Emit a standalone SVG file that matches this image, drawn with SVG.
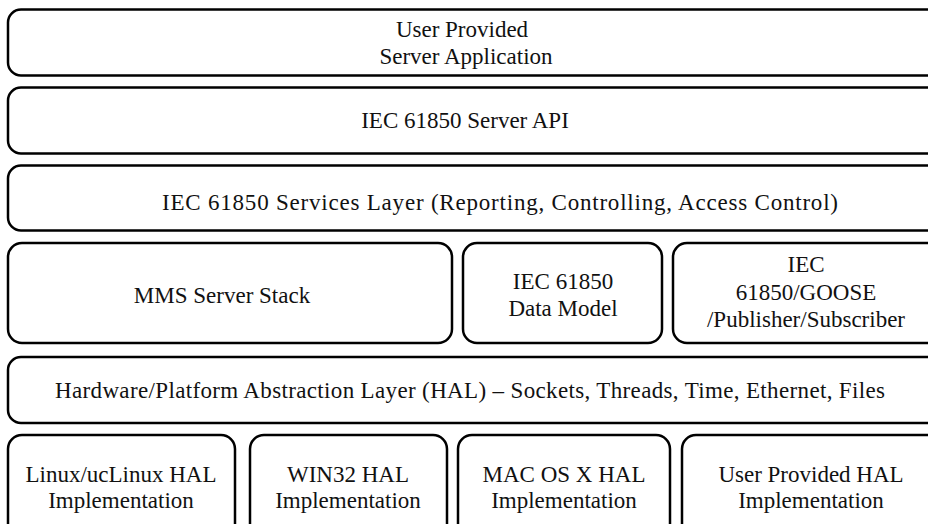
<svg xmlns="http://www.w3.org/2000/svg" width="928" height="524" viewBox="0 0 928 524">
<style>
.box{fill:#fff;stroke:#000;stroke-width:2.5}
.t{font-family:'Liberation Serif','Times New Roman',Tinos,'DejaVu Serif','Noto Serif',serif;font-size:23px;fill:#111;text-anchor:middle}
</style>
<rect width="928" height="524" fill="#fff"/>
<g id="user-app"><rect class="box" x="8" y="9.5" width="950" height="66" rx="13"/>
<text class="t" x="462" y="37">User Provided</text><text class="t" x="466" y="64">Server Application</text></g>
<g id="server-api"><rect class="box" x="8" y="87.5" width="950" height="66" rx="13"/>
<text class="t" x="465" y="128">IEC 61850 Server API</text></g>
<g id="services"><rect class="box" x="8" y="165.5" width="1000" height="65" rx="13"/>
<text class="t" x="500" y="210" textLength="676" lengthAdjust="spacing">IEC 61850 Services Layer (Reporting, Controlling, Access Control)</text></g>
<g id="mms"><rect class="box" x="8" y="243" width="444" height="100" rx="14"/>
<text class="t" x="222" y="303">MMS Server Stack</text></g>
<g id="data-model"><rect class="box" x="463" y="243" width="199" height="100" rx="14"/>
<text class="t" x="563" y="289">IEC 61850</text><text class="t" x="563" y="316">Data Model</text></g>
<g id="goose"><rect class="box" x="673" y="243" width="270" height="100" rx="14"/>
<text class="t" x="806" y="272">IEC</text><text class="t" x="806" y="300">61850/GOOSE</text><text class="t" x="806" y="327">/Publisher/Subscriber</text></g>
<g id="hal"><rect class="box" x="8" y="357" width="950" height="66" rx="13"/>
<text class="t" x="470" y="398" textLength="830" lengthAdjust="spacing">Hardware/Platform Abstraction Layer (HAL) – Sockets, Threads, Time, Ethernet, Files</text></g>
<g id="linux-hal"><rect class="box" x="8" y="435" width="227" height="110" rx="14"/>
<text class="t" x="121" y="482">Linux/ucLinux HAL</text><text class="t" x="121" y="508">Implementation</text></g>
<g id="win32-hal"><rect class="box" x="250" y="435" width="197" height="110" rx="14"/>
<text class="t" x="348" y="482">WIN32 HAL</text><text class="t" x="348" y="508">Implementation</text></g>
<g id="mac-hal"><rect class="box" x="458" y="435" width="212" height="110" rx="14"/>
<text class="t" x="564" y="482">MAC OS X HAL</text><text class="t" x="564" y="508">Implementation</text></g>
<g id="user-hal"><rect class="box" x="682" y="435" width="260" height="110" rx="14"/>
<text class="t" x="811" y="482">User Provided HAL</text><text class="t" x="811" y="508">Implementation</text></g>
<g id="connectors"/>
</svg>
